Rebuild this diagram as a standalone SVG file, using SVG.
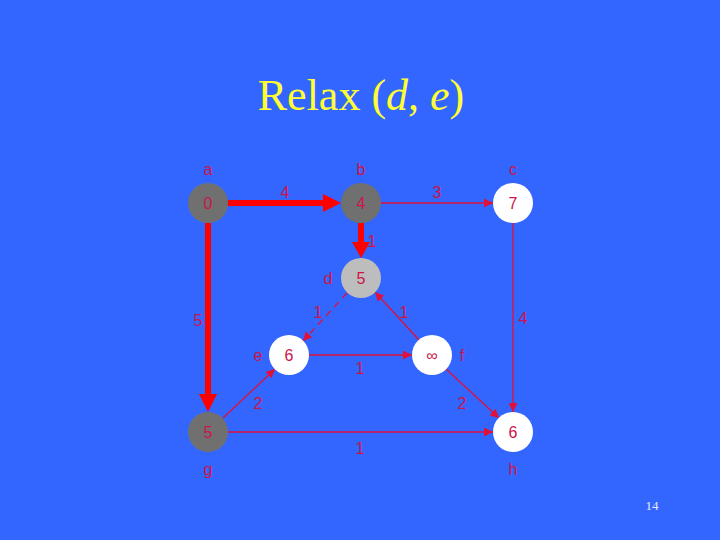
<svg xmlns="http://www.w3.org/2000/svg" width="720" height="540" viewBox="0 0 720 540">
<defs>
<style>
.t{font-family:"Liberation Sans",Arial,sans-serif;font-size:16px;fill:#CC1448;text-anchor:middle}
.thin{stroke:#E0103A;stroke-width:1.3;fill:none}
.thick{stroke:#FF0000;stroke-width:6;fill:none}
.dk{fill:#707070}
.lt{fill:#BDBDBD}
.wh{fill:#FFFFFF}
</style>
<marker id="ah" viewBox="0 0 10 10" refX="10" refY="5" markerWidth="9" markerHeight="9" markerUnits="userSpaceOnUse" orient="auto"><path d="M0,0 L10,5 L0,10 z" fill="#E0103A"/></marker>
</defs>
<rect width="720" height="540" fill="#3366FF"/>
<text x="361" y="110" font-family="'Liberation Serif','Times New Roman',serif" font-size="44" fill="#FFFF33" text-anchor="middle">Relax (<tspan font-style="italic">d</tspan>, <tspan font-style="italic">e</tspan>)</text>
<g id="connectors">
<line class="thick" x1="228" y1="203" x2="327" y2="203"/>
<path d="M323,194 L341,203 L323,212 z" fill="#FF0000"/>
<line class="thick" x1="361" y1="223" x2="361" y2="246"/>
<path d="M352,242 L361,258 L370,242 z" fill="#FF0000"/>
<line class="thick" x1="208" y1="223" x2="208" y2="398"/>
<path d="M199,394 L208,412 L217,394 z" fill="#FF0000"/>
<line class="thin" x1="381" y1="203" x2="493" y2="203" marker-end="url(#ah)"/>
<line class="thin" x1="513" y1="223" x2="513" y2="412" marker-end="url(#ah)"/>
<line class="thin" x1="347" y1="293" x2="303" y2="341" stroke-dasharray="7,5" marker-end="url(#ah)"/>
<line class="thin" x1="419" y1="340" x2="375" y2="292" marker-end="url(#ah)"/>
<line class="thin" x1="309" y1="355" x2="412" y2="355" marker-end="url(#ah)"/>
<line class="thin" x1="223" y1="418" x2="275" y2="369" marker-end="url(#ah)"/>
<line class="thin" x1="446" y1="369" x2="499" y2="418" marker-end="url(#ah)"/>
<line class="thin" x1="228" y1="432" x2="493" y2="432" marker-end="url(#ah)"/>
</g>
<g id="edge-labels">
<text class="t" x="285" y="198">4</text>
<text class="t" x="437" y="198">3</text>
<text class="t" x="372" y="247">1</text>
<text class="t" x="198" y="326">5</text>
<text class="t" x="523" y="324">4</text>
<text class="t" x="318" y="318">1</text>
<text class="t" x="404" y="318">1</text>
<text class="t" x="360" y="374">1</text>
<text class="t" x="258" y="409">2</text>
<text class="t" x="462" y="409">2</text>
<text class="t" x="360" y="454">1</text>
</g>
<g id="node-a"><circle class="dk" cx="208" cy="203" r="20"/><text class="t" x="208" y="209">0</text><text class="t" x="208" y="175">a</text></g>
<g id="node-b"><circle class="dk" cx="361" cy="203" r="20"/><text class="t" x="361" y="209">4</text><text class="t" x="361" y="175">b</text></g>
<g id="node-c"><circle class="wh" cx="513" cy="203" r="20"/><text class="t" x="513" y="209">7</text><text class="t" x="513" y="175">c</text></g>
<g id="node-d"><circle class="lt" cx="361" cy="278" r="20"/><text class="t" x="361" y="284">5</text><text class="t" x="328" y="284">d</text></g>
<g id="node-e"><circle class="wh" cx="289" cy="355" r="20"/><text class="t" x="289" y="361">6</text><text class="t" x="258" y="361">e</text></g>
<g id="node-f"><circle class="wh" cx="432" cy="355" r="20"/><text class="t" x="432" y="361" font-size="17">∞</text><text class="t" x="462" y="361">f</text></g>
<g id="node-g"><circle class="dk" cx="208" cy="432" r="20"/><text class="t" x="208" y="438">5</text><text class="t" x="208" y="475">g</text></g>
<g id="node-h"><circle class="wh" cx="513" cy="432" r="20"/><text class="t" x="513" y="438">6</text><text class="t" x="513" y="475">h</text></g>
<text x="652" y="510" font-family="'Liberation Serif','Times New Roman',serif" font-size="13" fill="#E8E8FF" text-anchor="middle">14</text>
</svg>
